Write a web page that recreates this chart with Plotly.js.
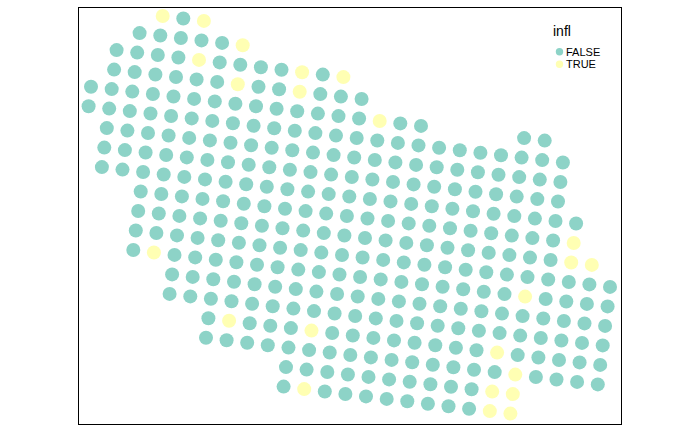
<!DOCTYPE html>
<html>
<head>
<meta charset="utf-8">
<script src="https://cdn.plot.ly/plotly-3.0.1.min.js"></script>
<style>html,body{margin:0;padding:0;background:#fff;}#chart{width:700px;height:432px;}</style>
</head>
<body>
<div id="chart"></div>
<script>
// Spot positions (image column / image row units), infl = FALSE
const falseX = [
183.3,
139.6,160.3,180.9,201.5,222.1,
116.6,137.2,157.8,178.4,219.7,240.3,260.9,281.5,322.8,
114.1,134.7,155.4,176.0,196.6,217.2,258.5,279.1,320.3,340.9,361.6,
91.0,111.7,132.3,152.9,173.5,194.1,214.8,235.4,256.0,276.6,297.2,317.9,338.5,359.1,400.3,421.0,524.1,544.7,
88.6,109.2,129.8,150.5,171.1,191.7,212.3,232.9,253.6,274.2,294.8,315.4,336.0,356.7,377.3,397.9,418.5,439.1,459.8,480.4,501.0,521.6,542.2,562.9,
106.8,127.4,148.0,168.6,189.2,209.9,230.5,251.1,271.7,292.3,313.0,333.6,354.2,374.8,395.4,416.1,436.7,457.3,477.9,498.5,519.2,539.8,560.4,
104.3,124.9,145.6,166.2,186.8,207.4,228.0,248.7,269.3,289.9,310.5,331.1,351.8,372.4,393.0,413.6,434.2,454.9,475.5,496.1,516.7,537.3,558.0,
101.9,122.5,143.1,163.7,184.3,205.0,225.6,246.2,266.8,287.4,308.1,328.7,349.3,369.9,390.5,411.2,431.8,452.4,473.0,493.6,514.3,534.9,555.5,576.1,
140.7,161.3,181.9,202.5,223.1,243.8,264.4,285.0,305.6,326.2,346.9,367.5,388.1,408.7,429.3,450.0,470.6,491.2,511.8,532.4,553.1,
138.2,158.8,179.4,200.1,220.7,241.3,261.9,282.5,303.2,323.8,344.4,365.0,385.6,406.3,426.9,447.5,468.1,488.7,509.4,530.0,550.6,
135.8,156.4,177.0,197.6,218.2,238.9,259.5,280.1,300.7,321.3,342.0,362.6,383.2,403.8,424.4,445.1,465.7,486.3,506.9,527.5,548.2,568.8,589.4,610.0,
133.3,174.5,195.2,215.8,236.4,257.0,277.6,298.3,318.9,339.5,360.1,380.7,401.4,422.0,442.6,463.2,483.8,504.5,545.7,566.3,586.9,607.6,
172.1,192.7,213.3,234.0,254.6,275.2,295.8,316.4,337.1,357.7,378.3,398.9,419.5,440.2,460.8,481.4,502.0,522.6,543.3,563.9,584.5,605.1,
169.6,190.3,210.9,231.5,252.1,272.7,293.4,314.0,334.6,355.2,375.8,396.5,417.1,437.7,458.3,478.9,499.6,520.2,540.8,561.4,582.0,602.7,
208.4,249.7,270.3,290.9,332.2,352.8,373.4,394.0,414.6,435.3,455.9,476.5,517.7,538.4,559.0,579.6,600.2,
206.0,226.6,247.2,267.8,288.5,309.1,329.7,350.3,370.9,391.6,412.2,432.8,453.4,474.0,494.7,535.9,556.5,577.1,597.8,
286.0,306.6,327.3,347.9,368.5,389.1,409.7,430.4,451.0,471.6,
283.6,324.8,345.4,366.0,386.7,407.3,427.9,448.5,469.1
];
const falseY = [
18.5,
33.1,35.5,38.0,40.4,42.9,
50.1,52.6,55.0,57.5,62.4,64.8,67.3,69.7,74.6,
69.6,72.1,74.5,77.0,79.4,81.9,86.8,89.2,94.1,96.6,99.0,
86.7,89.1,91.6,94.0,96.5,98.9,101.4,103.8,106.3,108.7,111.2,113.6,116.1,118.5,123.4,125.9,138.1,140.6,
106.2,108.6,111.1,113.5,116.0,118.4,120.9,123.3,125.8,128.2,130.7,133.1,135.6,138.0,140.5,142.9,145.4,147.8,150.3,152.7,155.2,157.6,160.1,162.5,
128.1,130.6,133.0,135.5,137.9,140.4,142.8,145.3,147.7,150.2,152.6,155.1,157.5,160.0,162.4,164.9,167.3,169.8,172.2,174.7,177.1,179.6,182.0,
147.6,150.1,152.5,155.0,157.4,159.9,162.3,164.8,167.2,169.7,172.1,174.6,177.0,179.5,181.9,184.4,186.8,189.3,191.7,194.2,196.6,199.1,201.5,
167.1,169.6,172.0,174.5,176.9,179.4,181.8,184.3,186.7,189.2,191.6,194.1,196.5,199.0,201.4,203.9,206.3,208.8,211.2,213.7,216.1,218.6,221.0,223.5,
191.5,194.0,196.4,198.9,201.3,203.8,206.2,208.7,211.1,213.6,216.0,218.5,220.9,223.4,225.8,228.3,230.7,233.2,235.6,238.1,240.5,
211.0,213.5,215.9,218.4,220.8,223.3,225.7,228.2,230.6,233.1,235.5,238.0,240.4,242.9,245.3,247.8,250.2,252.7,255.1,257.6,260.0,
230.5,233.0,235.4,237.9,240.3,242.8,245.2,247.7,250.1,252.6,255.0,257.5,259.9,262.4,264.8,267.3,269.7,272.2,274.6,277.1,279.5,282.0,284.4,286.9,
250.0,254.9,257.4,259.8,262.3,264.7,267.2,269.6,272.1,274.5,277.0,279.4,281.9,284.3,286.8,289.2,291.7,294.1,299.0,301.5,303.9,306.4,
274.4,276.9,279.3,281.8,284.2,286.7,289.1,291.6,294.0,296.5,298.9,301.4,303.8,306.3,308.7,311.2,313.6,316.1,318.5,321.0,323.4,325.9,
293.9,296.4,298.8,301.3,303.7,306.2,308.6,311.1,313.5,316.0,318.4,320.9,323.3,325.8,328.2,330.7,333.1,335.6,338.0,340.5,342.9,345.4,
318.3,323.2,325.7,328.1,333.0,335.5,337.9,340.4,342.8,345.3,347.7,350.2,355.1,357.5,360.0,362.4,364.9,
337.8,340.3,342.7,345.2,347.6,350.1,352.5,355.0,357.4,359.9,362.3,364.8,367.2,369.7,372.1,377.0,379.5,381.9,384.4,
367.1,369.6,372.0,374.5,376.9,379.4,381.8,384.3,386.7,389.2,
386.6,391.5,394.0,396.4,398.9,401.3,403.8,406.2,408.7
];
// infl = TRUE
const trueX = [162.7,203.9,242.7,199.0,302.1,343.4,237.8,299.7,379.7,573.7,571.2,591.8,153.9,525.1,229.1,311.5,497.1,515.3,492.2,512.8,304.2,489.8,510.4];
const trueY = [16.0,20.9,45.3,59.9,72.2,77.1,84.3,91.7,121.0,243.0,262.5,264.9,252.5,296.6,320.8,330.6,352.6,374.6,391.6,394.1,389.1,411.1,413.6];

const legendTitle = 'infl';
const levels = ['FALSE', 'TRUE'];
const colors = ['#8DD3C7', '#FFFFB3'];

const traces = [
  {x: falseX, y: falseY, name: levels[0], type: 'scatter', mode: 'markers',
   marker: {color: colors[0], size: 14, line: {width: 0}}, hoverinfo: 'skip'},
  {x: trueX, y: trueY, name: levels[1], type: 'scatter', mode: 'markers',
   marker: {color: colors[1], size: 14, line: {width: 0}}, hoverinfo: 'skip'}
];

// plot area: x 79..621 px, y 8..424 px
const W = 542, H = 416;
const px = v => (v - 79) / W;
const py = v => 1 - (v - 8) / H;
const rX = 3.7 / W, rY = 3.7 / H;
const keyX = 559.5, keyY = [51.7, 64.2];

const layout = {
  width: 700, height: 432,
  margin: {l: 79, r: 79, t: 8, b: 8, pad: 0},
  paper_bgcolor: '#ffffff', plot_bgcolor: '#ffffff',
  showlegend: false,
  font: {family: 'Liberation Sans, Arial, sans-serif', color: '#000'},
  xaxis: {range: [79, 621], showgrid: false, zeroline: false, showticklabels: false,
          ticks: '', showline: true, mirror: true, linecolor: '#000', linewidth: 1, fixedrange: true},
  yaxis: {range: [424, 8], showgrid: false, zeroline: false, showticklabels: false,
          ticks: '', showline: true, mirror: true, linecolor: '#000', linewidth: 1, fixedrange: true},
  annotations: [
    {xref: 'paper', yref: 'paper', x: px(550.5), y: py(31), xanchor: 'left', yanchor: 'middle',
     text: legendTitle, showarrow: false, font: {size: 14, color: '#000'}},
    {xref: 'paper', yref: 'paper', x: px(564), y: py(keyY[0]), xanchor: 'left', yanchor: 'middle',
     text: levels[0], showarrow: false, font: {size: 11, color: '#000'}},
    {xref: 'paper', yref: 'paper', x: px(564), y: py(keyY[1]), xanchor: 'left', yanchor: 'middle',
     text: levels[1], showarrow: false, font: {size: 11, color: '#000'}}
  ],
  shapes: keyY.map((k, i) => ({
    type: 'circle', xref: 'paper', yref: 'paper',
    x0: px(keyX) - rX, x1: px(keyX) + rX, y0: py(k) - rY, y1: py(k) + rY,
    fillcolor: colors[i], line: {width: 0}
  }))
};

Plotly.newPlot('chart', traces, layout, {staticPlot: true, displayModeBar: false});
</script>
</body>
</html>
